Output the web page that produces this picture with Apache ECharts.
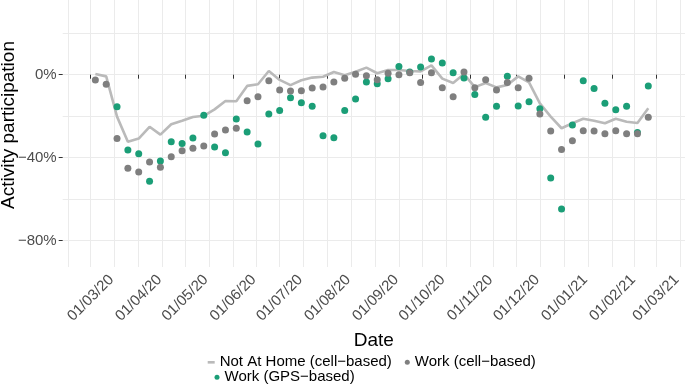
<!DOCTYPE html>
<html>
<head>
<meta charset="utf-8">
<script src="https://cdn.jsdelivr.net/npm/echarts@6/dist/echarts.min.js"></script>
<style>
html,body{margin:0;padding:0;background:#fff;}
#chart{width:685px;height:390px;}
</style>
</head>
<body>
<div id="chart"></div>
<script>
// ---- data (percent) ----
const dates = ['2020-03-04','2020-03-11','2020-03-18','2020-03-25','2020-04-01','2020-04-08','2020-04-15','2020-04-22','2020-04-29','2020-05-06','2020-05-13','2020-05-20','2020-05-27','2020-06-03','2020-06-10','2020-06-17','2020-06-24','2020-07-01','2020-07-08','2020-07-15','2020-07-22','2020-07-29','2020-08-05','2020-08-12','2020-08-19','2020-08-26','2020-09-02','2020-09-09','2020-09-16','2020-09-23','2020-09-30','2020-10-07','2020-10-14','2020-10-21','2020-10-28','2020-11-04','2020-11-11','2020-11-18','2020-11-25','2020-12-02','2020-12-09','2020-12-16','2020-12-23','2020-12-30','2021-01-06','2021-01-13','2021-01-20','2021-01-27','2021-02-03','2021-02-10','2021-02-17','2021-02-24'];
const notAtHome = [0.3,-0.8,-20.2,-32.3,-30.8,-25.1,-28.9,-23.9,-22.2,-20.4,-19.8,-16.7,-12.7,-12.8,-5.4,-4.6,1.8,-2.5,-5.0,-2.7,-1.4,-1.0,1.3,-0.3,1.4,3.4,0.7,2.3,2.3,1.8,1.6,4.5,-1.9,-4.0,0.3,-6.0,-4.0,-6.1,-5.0,-0.8,-3.7,-13.8,-20.2,-25.8,-23.4,-21.2,-22.2,-23.4,-21.2,-22.7,-23.3,-16.2];
const workCell = [-2.6,-4.6,-30.8,-45.1,-46.9,-42.1,-44.6,-39.5,-36.6,-35.5,-34.4,-28.6,-26.6,-25.8,-12.6,-10.6,-2.9,-7.4,-7.8,-7.7,-6.4,-5.9,-3.5,-1.7,0.2,-0.5,-2.4,0.7,0.0,1.0,-3.7,1.0,-6.3,-10.6,1.3,-6.3,-2.4,-7.4,-3.7,-6.3,-1.7,-18.9,-27.1,-36.1,-31.8,-27.0,-27.1,-28.4,-27.0,-28.4,-28.4,-20.5];
const workGPS = [null,null,-15.4,-36.3,-38.1,-51.4,-41.6,-32.3,-33.1,-30.5,-19.6,-34.8,-37.6,-21.3,-27.6,-33.4,-18.9,-17.3,-11.1,-13.5,-15.2,-29.4,-30.4,-17.2,-11.7,-3.5,-4.3,-1.9,3.9,1.3,3.7,7.6,5.6,1.0,-1.6,-9.5,-20.5,-15.2,-0.8,-15.1,-13.0,-16.4,-49.8,-64.7,-24.2,-2.9,-6.6,-13.8,-16.9,-15.2,-27.8,-5.4];
const monthTicks = ['2020-03-01','2020-04-01','2020-05-01','2020-06-01','2020-07-01','2020-08-01','2020-09-01','2020-10-01','2020-11-01','2020-12-01','2021-01-01','2021-02-01','2021-03-01'];
const yTickValues = [0,-40,-80];
const yMinorValues = [20,-20,-60];

const NAME_HOME = 'Not At Home (cell\u2212based)';
const NAME_CELL = 'Work (cell\u2212based)';
const NAME_GPS = 'Work (GPS\u2212based)';

const DAY = 86400000;
const ts = s => { const p = s.split('-').map(Number); return Date.UTC(p[0], p[1]-1, p[2]); };
const pairs = vals => dates.map((d,i) => vals[i] == null ? null : [ts(d), vals[i]]).filter(Boolean);

const origin = ts('2020-03-01');
const xMin = origin - 18.08 * DAY;
const xMax = origin + 383.7 * DAY;

const tickTimes = monthTicks.map(ts);
const gridMonths = [ts('2020-02-01')].concat(tickTimes, [ts('2021-04-01')]);
const minorTimes = [];
for (let i = 0; i < gridMonths.length - 1; i++) minorTimes.push((gridMonths[i] + gridMonths[i+1]) / 2);

const gridLines = []
  .concat(tickTimes.map(t => ({xAxis: t})))
  .concat(minorTimes.map(t => ({xAxis: t})))
  .concat(yTickValues.map(v => ({yAxis: v})))
  .concat(yMinorValues.map(v => ({yAxis: v})));

const pad = n => (n < 10 ? '0' : '') + n;
const FONT = "'Liberation Sans', Arial, Helvetica, sans-serif";

const chart = echarts.init(document.getElementById('chart'), null, {renderer: 'canvas'});
chart.setOption({
  animation: false,
  backgroundColor: '#ffffff',
  textStyle: {fontFamily: FONT},
  grid: {left: 62.7, right: 0, top: 0, height: 267, containLabel: false, outerBoundsMode: 'none'},
  xAxis: {
    type: 'value', min: xMin, max: xMax, scale: true,
    name: 'Date', nameLocation: 'middle', nameGap: 68,
    nameTextStyle: {fontSize: 19, color: '#000', verticalAlign: 'middle', fontFamily: FONT},
    axisLine: {show: false},
    axisTick: {show: true, customValues: tickTimes, length: 4, lineStyle: {color: '#333333', width: 1}},
    axisLabel: {
      customValues: tickTimes, rotate: 45, align: 'center', verticalAlign: 'middle', margin: 31,
      fontSize: 15, color: '#4d4d4d', fontFamily: FONT,
      formatter: v => { const d = new Date(v); return pad(d.getUTCDate()) + '/' + pad(d.getUTCMonth()+1) + '/' + pad(d.getUTCFullYear() % 100); }
    },
    splitLine: {show: false}
  },
  yAxis: {
    type: 'value', min: -92.67, max: 36.0,
    axisLine: {show: false},
    axisTick: {show: true, customValues: yTickValues, length: 4, lineStyle: {color: '#333333', width: 1}},
    axisLabel: {
      customValues: yTickValues, margin: 6, fontSize: 15, color: '#4d4d4d', fontFamily: FONT,
      formatter: v => (v < 0 ? '\u2212' : '') + Math.abs(v) + '%'
    },
    splitLine: {show: false}
  },
  legend: [
    {data: [{name: NAME_HOME, icon: 'path://M0,0H66V25H0Z'}], left: 207.7, top: 354.3, padding: 0,
     itemWidth: 7, itemHeight: 7, selectedMode: false,
     textStyle: {fontSize: 15, color: '#000', lineHeight: 16, fontFamily: FONT}},
    {data: [{name: NAME_CELL, icon: 'circle'}], left: 404.8, top: 354.3, padding: 0,
     itemWidth: 5, itemHeight: 5, selectedMode: false,
     textStyle: {fontSize: 15, color: '#000', lineHeight: 16, fontFamily: FONT}},
    {data: [{name: NAME_GPS, icon: 'circle'}], left: 214.5, top: 369.3, padding: 0,
     itemWidth: 5, itemHeight: 5, selectedMode: false,
     textStyle: {fontSize: 15, color: '#000', lineHeight: 16, fontFamily: FONT}}
  ],
  graphic: [{
    type: 'text', x: 9, y: 125, rotation: Math.PI / 2,
    style: {text: 'Activity participation', fontSize: 19, fill: '#000', align: 'center', verticalAlign: 'middle', fontFamily: FONT}
  }],
  series: [
    {
      name: NAME_HOME, type: 'line', data: pairs(notAtHome), z: 2,
      color: '#bababa', showSymbol: false, symbol: 'none',
      lineStyle: {color: '#bababa', width: 2.6},
      markLine: {
        silent: true, symbol: 'none', z: 0, animation: false,
        label: {show: false}, emphasis: {disabled: true},
        lineStyle: {color: '#ebebeb', width: 1, type: 'solid'},
        data: gridLines
      }
    },
    {
      name: NAME_GPS, type: 'scatter', data: pairs(workGPS), z: 3,
      color: '#1b9e77', symbol: 'circle', symbolSize: 7,
      itemStyle: {color: '#1b9e77', opacity: 1}
    },
    {
      name: NAME_CELL, type: 'scatter', data: pairs(workCell), z: 4,
      color: '#7f7f7f', symbol: 'circle', symbolSize: 7,
      itemStyle: {color: '#7f7f7f', opacity: 1}
    }
  ]
});
</script>
</body>
</html>
